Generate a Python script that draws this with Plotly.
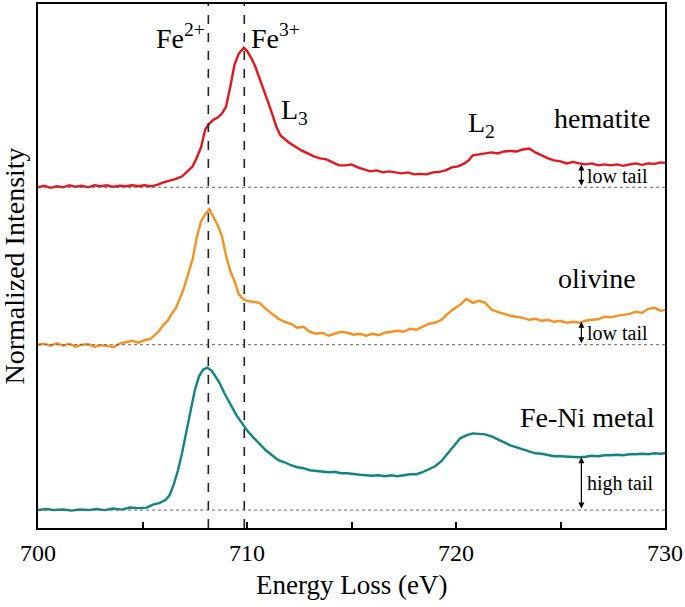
import plotly.graph_objects as go

# (energy loss eV, intensity)
hematite = [
    (700.0, 342), (700.3, 343.5), (700.6, 341.5), (700.9, 343), (701.2, 342), (701.5, 344),
    (701.8, 342.5), (702.1, 343.5), (702.4, 342), (702.7, 344), (703.0, 343), (703.3, 344),
    (703.6, 342.5), (703.9, 343.5), (704.2, 343), (704.5, 344), (704.8, 343), (705.1, 344),
    (705.4, 343), (705.7, 344.5), (706.0, 347), (706.3, 348.5), (706.6, 350.5), (706.9, 353),
    (707.2, 359), (707.4, 363), (707.6, 372), (707.8, 382), (708.0, 400), (708.2, 406),
    (708.4, 410), (708.6, 412), (708.8, 416), (709.0, 423), (709.2, 443), (709.4, 465),
    (709.6, 476), (709.85, 482), (710.0, 479), (710.2, 472), (710.4, 463), (710.6, 452),
    (710.8, 440), (711.0, 428), (711.2, 416), (711.4, 403), (711.6, 394), (711.8, 390),
    (712.0, 387), (712.3, 383), (712.6, 379), (712.9, 376), (713.2, 373), (713.5, 371),
    (713.8, 370), (714.1, 367), (714.4, 364), (714.7, 364), (715.0, 365), (715.3, 362),
    (715.6, 360), (715.9, 358), (716.2, 359), (716.5, 357), (716.8, 358), (717.1, 357),
    (717.4, 356), (717.7, 357), (718.0, 355), (718.3, 355.5), (718.6, 355), (718.9, 357),
    (719.2, 357.5), (719.5, 359), (719.8, 362), (720.1, 363), (720.4, 366), (720.6, 369),
    (720.8, 374), (721.1, 375), (721.4, 376), (721.7, 377), (722.0, 376), (722.3, 378),
    (722.6, 378.5), (722.9, 378), (723.2, 380), (723.5, 381), (723.8, 377), (724.1, 374),
    (724.4, 371), (724.7, 369), (725.0, 368), (725.3, 366), (725.6, 367.5), (725.9, 366),
    (726.2, 365), (726.5, 366), (726.8, 364), (727.1, 365), (727.4, 364), (727.7, 365),
    (728.0, 363.5), (728.3, 365), (728.6, 366), (728.9, 364.5), (729.2, 366), (729.5, 365.5),
    (729.8, 367), (730.0, 366.5),
]

olivine = [
    (700.0, 184), (700.3, 185), (700.6, 183), (700.9, 185.5), (701.2, 183), (701.5, 185),
    (701.8, 182), (702.1, 184), (702.4, 184.5), (702.7, 182), (703.0, 183.5), (703.3, 183),
    (703.6, 181.5), (703.9, 185), (704.2, 186.5), (704.5, 188), (704.8, 186), (705.1, 188.5),
    (705.4, 190), (705.6, 194), (705.8, 198), (706.0, 204), (706.2, 208), (706.4, 215),
    (706.6, 221), (706.8, 231), (707.0, 242), (707.2, 256), (707.4, 270), (707.6, 292),
    (707.8, 308), (708.0, 315), (708.2, 320), (708.4, 312), (708.6, 304), (708.8, 293),
    (709.0, 273), (709.2, 258), (709.4, 248), (709.6, 235), (709.8, 230), (710.0, 228),
    (710.3, 227), (710.6, 226), (710.9, 220), (711.2, 215), (711.5, 210), (711.8, 207),
    (712.1, 205), (712.4, 201), (712.7, 202), (713.0, 197), (713.3, 195), (713.6, 196),
    (713.9, 193), (714.2, 195), (714.5, 197), (714.8, 196), (715.1, 194), (715.4, 195),
    (715.7, 193), (716.0, 195), (716.3, 193.5), (716.6, 196), (716.9, 197), (717.2, 198),
    (717.5, 197), (717.8, 200), (718.1, 199), (718.4, 202), (718.7, 205), (719.0, 206),
    (719.3, 209), (719.6, 215), (719.9, 220), (720.2, 224), (720.5, 230), (720.8, 226),
    (721.1, 228), (721.4, 226), (721.7, 219), (722.0, 217), (722.3, 215), (722.6, 213),
    (722.9, 212), (723.2, 211), (723.5, 209), (723.8, 210), (724.1, 208), (724.4, 209),
    (724.7, 207), (725.0, 208), (725.3, 206), (725.6, 207), (725.9, 206), (726.2, 208),
    (726.5, 209), (726.8, 209.5), (727.1, 212), (727.4, 211.5), (727.7, 213), (728.0, 214),
    (728.3, 215), (728.6, 217), (728.9, 216), (729.2, 220), (729.5, 221), (729.8, 218),
    (730.0, 219),
]

feni_metal = [
    (700.0, 18), (700.4, 19), (700.8, 18), (701.2, 18.5), (701.6, 17.5), (702.0, 18.5),
    (702.4, 18), (702.8, 19), (703.2, 18), (703.6, 19.5), (704.0, 18.5), (704.4, 20.5),
    (704.8, 20), (705.2, 20.5), (705.5, 23.5), (705.8, 25), (706.1, 28), (706.3, 33),
    (706.5, 44), (706.7, 58), (706.9, 76), (707.1, 96), (707.3, 118), (707.5, 138),
    (707.7, 152), (707.9, 159), (708.1, 161), (708.3, 158), (708.5, 152), (708.7, 145),
    (708.9, 136), (709.1, 128), (709.3, 120), (709.5, 113), (709.7, 107), (710.0, 98),
    (710.3, 91), (710.6, 84), (710.9, 78), (711.2, 73), (711.5, 68), (711.8, 66),
    (712.1, 63), (712.4, 61), (712.7, 60), (713.0, 58), (713.3, 57.5), (713.6, 57),
    (713.9, 56), (714.2, 56.5), (714.5, 55), (714.8, 55), (715.1, 54), (715.4, 53.5),
    (715.7, 53), (716.0, 52.5), (716.3, 53), (716.6, 52), (716.9, 53), (717.2, 52),
    (717.5, 53), (717.8, 54), (718.1, 54), (718.4, 56), (718.7, 59), (719.0, 62),
    (719.3, 67), (719.6, 75), (719.9, 83), (720.2, 90), (720.5, 93), (720.8, 95),
    (721.1, 94.5), (721.4, 94), (721.7, 92), (722.0, 89), (722.3, 86), (722.6, 83),
    (722.9, 81), (723.2, 79), (723.5, 77), (723.8, 75), (724.1, 74.5), (724.4, 73),
    (724.7, 72), (725.0, 72), (725.3, 71.5), (725.6, 71), (725.9, 71), (726.2, 71.5),
    (726.5, 72.5), (726.8, 72), (727.1, 73), (727.4, 73), (727.7, 73.5), (728.0, 73),
    (728.3, 74), (728.6, 74), (728.9, 74.5), (729.2, 74), (729.5, 75), (729.8, 74.5),
    (730.0, 75),
]

names = ["hematite", "olivine", "Fe-Ni metal"]
colors = ["#e8141c", "#f7901e", "#10857f"]
baselines = [342, 184, 18]
tail_tops = [365, 207, 71]
tail_labels = ["low tail", "low tail", "high tail"]
name_y = [411, 250, 111]
name_x = [729.4, 728.7, 729.6]
edge_lines = [708.15, 709.87]
x_ticks = [700, 710, 720, 730]
tail_x = 726.0

serif = "Liberation Serif"

fig = go.Figure()

for data, c in zip([hematite, olivine, feni_metal], colors):
    fig.add_trace(go.Scatter(
        x=[p[0] for p in data], y=[p[1] for p in data],
        mode="lines", line=dict(color=c, width=2.4), hoverinfo="skip"))

# dotted baselines under each spectrum
for b in baselines:
    fig.add_trace(go.Scatter(
        x=[700, 730], y=[b, b], mode="lines",
        line=dict(color="#666", width=1, dash="dot"), hoverinfo="skip"))

# Fe2+ / Fe3+ edge positions
for e in edge_lines:
    fig.add_shape(type="line", x0=e, x1=e, y0=0, y1=1, xref="x", yref="paper",
                  line=dict(color="#222", width=1.6, dash="dash"))

ann = []
ann.append(dict(x=edge_lines[0], y=493, text="Fe<sup>2+</sup>", xanchor="right", xshift=-1,
                showarrow=False, font=dict(size=28)))
ann.append(dict(x=edge_lines[1], y=493, text="Fe<sup>3+</sup>", xanchor="left", xshift=5,
                showarrow=False, font=dict(size=28)))
ann.append(dict(x=711.55, y=418, text="L<sub>3</sub>", xanchor="left",
                showarrow=False, font=dict(size=28)))
ann.append(dict(x=720.5, y=405, text="L<sub>2</sub>", xanchor="left",
                showarrow=False, font=dict(size=28)))

for i in range(3):
    ann.append(dict(x=name_x[i], y=name_y[i], text=names[i], xanchor="right",
                    showarrow=False, font=dict(size=28)))
    ann.append(dict(x=tail_x, y=(tail_tops[i] + baselines[i]) / 2, text=tail_labels[i],
                    xanchor="left", xshift=4, showarrow=False, font=dict(size=20)))
    ann.append(dict(x=tail_x, y=tail_tops[i], ax=tail_x, ay=baselines[i],
                    xref="x", yref="y", axref="x", ayref="y", text="",
                    showarrow=True, arrowside="end+start", arrowhead=2, arrowsize=1,
                    arrowwidth=1.2, arrowcolor="black", standoff=0, startstandoff=0))

ann.append(dict(x=-0.039, y=0.5, xref="paper", yref="paper", text="Normalized Intensity",
                xanchor="center", yanchor="middle", textangle=-90, showarrow=False,
                font=dict(size=28)))
ann.append(dict(x=0.5, y=-0.108, xref="paper", yref="paper", text="Energy Loss (eV)",
                xanchor="center", yanchor="middle", showarrow=False, font=dict(size=27)))

fig.update_layout(
    width=685, height=607,
    margin=dict(l=38, r=19, t=2, b=79),
    paper_bgcolor="white", plot_bgcolor="white",
    showlegend=False,
    font=dict(family=serif, color="black"),
    annotations=ann,
)
fig.update_xaxes(
    range=[700, 730], tickvals=x_ticks, ticks="inside", ticklen=6, tickwidth=1.5,
    tickcolor="black", showline=True, linecolor="black", linewidth=2, mirror=True,
    showgrid=False, zeroline=False, tickfont=dict(size=24), ticklabelstandoff=2,
    minor=dict(tickvals=[705, 715, 725], ticks="inside", ticklen=6, tickwidth=1.5,
               tickcolor="black", showgrid=False),
)
fig.update_yaxes(
    range=[0, 526], showticklabels=False, ticks="", showline=True, linecolor="black",
    linewidth=2, mirror=True, showgrid=False, zeroline=False,
)

# page body has a default margin; drop it so the figure sits at the window corner
fig.write_html("out.html", config={"displayModeBar": False},
               post_script="document.body.style.margin='0';")
